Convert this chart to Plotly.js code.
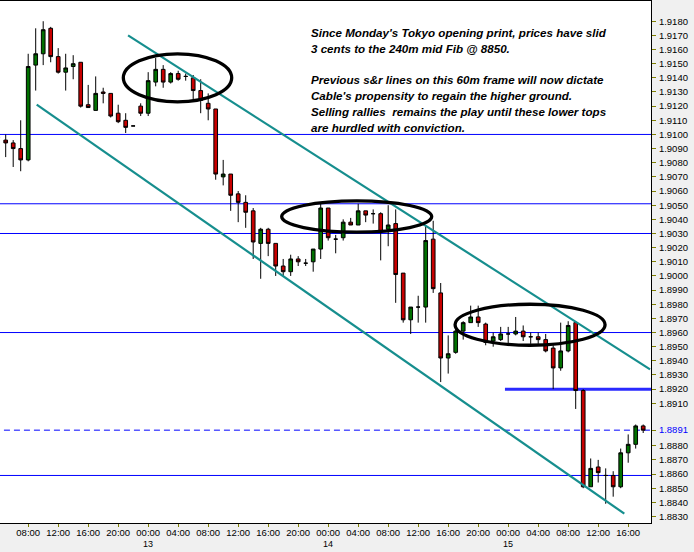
<!DOCTYPE html>
<html>
<head>
<meta charset="utf-8">
<script src="https://cdn.plot.ly/plotly-3.0.1.min.js"></script>
<style>
  html, body { margin: 0; padding: 0; background: #f0f0f0; }
  #chart { width: 694px; height: 552px; }
</style>
</head>
<body>
<div id="chart"></div>
<script>
// Cable (GBP/USD) 60-minute candles, 12th 04:00 through 15th 18:00
const firstBarUTC = Date.UTC(2008, 7, 12, 4, 0, 0);

const opens = [
  1.9098, 1.9096, 1.9094, 1.9090, 1.9082, 1.9149, 1.9157, 1.9175, 1.9155, 1.9144,
  1.9148, 1.9151, 1.9121, 1.9117, 1.9130, 1.9129, 1.9115, 1.9110, 1.9106, 1.9120,
  1.9115, 1.9137, 1.9146, 1.9137, 1.9143, 1.9141, 1.9140, 1.9131, 1.9122, 1.9118,
  1.9070, 1.9072, 1.9058, 1.9052, 1.9046, 1.9023, 1.9033, 1.9023, 1.9007, 1.9003,
  1.9012, 1.9009, 1.9010, 1.9019, 1.9048, 1.9026, 1.9027, 1.9038, 1.9036, 1.9046,
  1.9044, 1.9044, 1.9033, 1.9037, 1.9002, 1.8969, 1.8978, 1.8978, 1.9026, 1.8988,
  1.8942, 1.8946, 1.8961, 1.8967, 1.8971, 1.8966, 1.8954, 1.8955, 1.8959, 1.8959,
  1.8961, 1.8957, 1.8957, 1.8955, 1.8949, 1.8935, 1.8947, 1.8967, 1.8919, 1.8851,
  1.8865, 1.8859, 1.8859, 1.8851, 1.8875, 1.8881, 1.8894
];
const highs = [
  1.9099, 1.9100, 1.9096, 1.9110, 1.9157, 1.9175, 1.9180, 1.9176, 1.9161, 1.9157,
  1.9156, 1.9151, 1.9135, 1.9141, 1.9133, 1.9129, 1.9121, 1.9115, 1.9106, 1.9122,
  1.9144, 1.9154, 1.9149, 1.9144, 1.9145, 1.9143, 1.9142, 1.9139, 1.9129, 1.9118,
  1.9082, 1.9072, 1.9060, 1.9057, 1.9048, 1.9034, 1.9034, 1.9023, 1.9012, 1.9015,
  1.9014, 1.9012, 1.9019, 1.9051, 1.9048, 1.9029, 1.9040, 1.9041, 1.9051, 1.9046,
  1.9047, 1.9045, 1.9050, 1.9047, 1.9002, 1.8978, 1.8986, 1.9035, 1.9039, 1.8995,
  1.8958, 1.8964, 1.8968, 1.8979, 1.8979, 1.8967, 1.8960, 1.8964, 1.8964, 1.8971,
  1.8965, 1.8960, 1.8960, 1.8959, 1.8951, 1.8967, 1.8968, 1.8968, 1.8920, 1.8871,
  1.8870, 1.8864, 1.8862, 1.8878, 1.8888, 1.8895, 1.8895
];
const lows = [
  1.9097, 1.9084, 1.9077, 1.9074, 1.9081, 1.9131, 1.9149, 1.9151, 1.9143, 1.9131,
  1.9139, 1.9119, 1.9119, 1.9117, 1.9122, 1.9112, 1.9108, 1.9101, 1.9106, 1.9113,
  1.9113, 1.9134, 1.9133, 1.9136, 1.9138, 1.9138, 1.9125, 1.9115, 1.9110, 1.9068,
  1.9064, 1.9046, 1.9038, 1.9034, 1.9012, 1.8998, 1.9014, 1.9000, 1.9000, 1.9000,
  1.9007, 1.9007, 1.9003, 1.9012, 1.9025, 1.9016, 1.9025, 1.9036, 1.9036, 1.9038,
  1.9037, 1.9011, 1.9021, 1.8981, 1.8967, 1.8959, 1.8967, 1.8967, 1.8988, 1.8925,
  1.8931, 1.8945, 1.8955, 1.8967, 1.8964, 1.8951, 1.8950, 1.8954, 1.8952, 1.8958,
  1.8954, 1.8952, 1.8952, 1.8946, 1.8920, 1.8933, 1.8946, 1.8906, 1.8850, 1.8851,
  1.8854, 1.8839, 1.8844, 1.8850, 1.8868, 1.8878, 1.8889
];
const closes = [
  1.9098, 1.9094, 1.9090, 1.9082, 1.9148, 1.9157, 1.9174, 1.9155, 1.9144, 1.9147,
  1.9150, 1.9120, 1.9119, 1.9129, 1.9129, 1.9113, 1.9109, 1.9105, 1.9106, 1.9115,
  1.9138, 1.9146, 1.9137, 1.9143, 1.9139, 1.9141, 1.9131, 1.9124, 1.9118, 1.9072,
  1.9072, 1.9057, 1.9052, 1.9045, 1.9024, 1.9033, 1.9023, 1.9007, 1.9003, 1.9012,
  1.9010, 1.9009, 1.9019, 1.9048, 1.9027, 1.9026, 1.9038, 1.9036, 1.9046, 1.9043,
  1.9044, 1.9031, 1.9036, 1.9001, 1.8969, 1.8978, 1.8978, 1.9025, 1.8991, 1.8942,
  1.8945, 1.8961, 1.8967, 1.8971, 1.8967, 1.8953, 1.8957, 1.8959, 1.8959, 1.8961,
  1.8957, 1.8957, 1.8955, 1.8947, 1.8935, 1.8947, 1.8965, 1.8919, 1.8851, 1.8864,
  1.8861, 1.8859, 1.8851, 1.8875, 1.8881, 1.8894, 1.8891
];

// support / resistance levels
const srLevels = [1.9100, 1.9051, 1.9030, 1.8960, 1.8859];
const fibLevel = 1.8920;
const fibStart = '2008-08-14 23:34';
const lastPrice = 1.8891;
const lastPriceStart = '2008-08-12 04:46';

// descending channel
const channelUpperTime = ['2008-08-12 21:19', '2008-08-15 18:55'];
const channelUpperPrice = [1.9170, 1.8934];
const channelLowerTime = ['2008-08-12 09:08', '2008-08-15 15:29'];
const channelLowerPrice = [1.9121, 1.8832];

// consolidation zones (ellipses)
const zoneStart = ['2008-08-12 20:41', '2008-08-13 17:48', '2008-08-14 16:55'];
const zoneEnd   = ['2008-08-13 11:08', '2008-08-14 13:48', '2008-08-15 12:55'];
const zoneLow   = [1.9123, 1.9031, 1.8951];
const zoneHigh  = [1.9157, 1.9053, 1.8980];

// axis ticks
const yTickVals = [
  1.9180, 1.9170, 1.9160, 1.9150, 1.9140, 1.9130, 1.9120, 1.9110, 1.9100, 1.9090,
  1.9080, 1.9070, 1.9060, 1.9050, 1.9040, 1.9030, 1.9020, 1.9010, 1.9000, 1.8990,
  1.8980, 1.8970, 1.8960, 1.8950, 1.8940, 1.8930, 1.8920, 1.8910, 1.8891, 1.8880,
  1.8870, 1.8860, 1.8850, 1.8840, 1.8830
];
const xTickVals = [
  '2008-08-12 04:00', '2008-08-12 08:00', '2008-08-12 12:00', '2008-08-12 16:00', '2008-08-12 20:00',
  '2008-08-13 00:00', '2008-08-13 04:00', '2008-08-13 08:00', '2008-08-13 12:00', '2008-08-13 16:00', '2008-08-13 20:00',
  '2008-08-14 00:00', '2008-08-14 04:00', '2008-08-14 08:00', '2008-08-14 12:00', '2008-08-14 16:00', '2008-08-14 20:00',
  '2008-08-15 00:00', '2008-08-15 04:00', '2008-08-15 08:00', '2008-08-15 12:00', '2008-08-15 16:00'
];
const xTickText = [
  '04:00', '08:00', '12:00', '16:00', '20:00',
  '00:00', '04:00', '08:00', '12:00', '16:00', '20:00',
  '00:00', '04:00', '08:00', '12:00', '16:00', '20:00',
  '00:00', '04:00', '08:00', '12:00', '16:00'
];
const dayTicks = ['2008-08-13 00:00', '2008-08-14 00:00', '2008-08-15 00:00'];
const dayLabels = ['13', '14', '15'];

const noteLines = [
  "Since Monday's Tokyo opening print, prices have slid",
  "3 cents to the 240m mid Fib @ 8850.",
  "",
  "Previous s&r lines on this 60m frame will now dictate",
  "Cable's propensity to regain the higher ground.",
  "Selling rallies  remains the play until these lower tops",
  "are hurdled with conviction."
];

// hourly bar timestamps
const times = opens.map((_, i) => {
  const d = new Date(firstBarUTC + i * 3600e3);
  return d.toISOString().slice(0, 16).replace('T', ' ');
});

const xRange = ['2008-08-12 04:14:24', '2008-08-15 19:02:24'];
const yRange = [1.88254, 1.91943];

const BLUE = '#0000ff';
const TEAL = '#168e8e';
const FONT = 'Liberation Sans, Arial, sans-serif';

const shapes = [];
srLevels.forEach(p => shapes.push({
  type: 'line', xref: 'paper', yref: 'y', x0: 0, x1: 1, y0: p, y1: p,
  line: { color: BLUE, width: 1 }, layer: 'below'
}));
shapes.push({
  type: 'line', xref: 'x', yref: 'y', x0: lastPriceStart, x1: xRange[1], y0: lastPrice, y1: lastPrice,
  line: { color: BLUE, width: 1, dash: '6px,4px' }, layer: 'below'
});
shapes.push({
  type: 'line', xref: 'x', yref: 'y', x0: fibStart, x1: xRange[1], y0: fibLevel, y1: fibLevel,
  line: { color: '#2a2aff', width: 3 }, layer: 'below'
});
shapes.push({
  type: 'line', xref: 'x', yref: 'y',
  x0: channelUpperTime[0], x1: channelUpperTime[1], y0: channelUpperPrice[0], y1: channelUpperPrice[1],
  line: { color: TEAL, width: 2.2 }
});
shapes.push({
  type: 'line', xref: 'x', yref: 'y',
  x0: channelLowerTime[0], x1: channelLowerTime[1], y0: channelLowerPrice[0], y1: channelLowerPrice[1],
  line: { color: TEAL, width: 2.2 }
});
zoneStart.forEach((t, k) => shapes.push({
  type: 'circle', xref: 'x', yref: 'y',
  x0: t, x1: zoneEnd[k], y0: zoneLow[k], y1: zoneHigh[k],
  line: { color: '#000000', width: 3.3 }
}));

// commentary block, one annotation per line
const noteX = 309 / 651;
const noteTop = 31.5;    // px from top of plot
const noteStep = 15.8;   // px between lines
const plotH = 522;
const annotations = noteLines.map((txt, k) => ({
  xref: 'paper', yref: 'paper', x: noteX, xanchor: 'left',
  y: 1 - (noteTop + k * noteStep) / plotH, yanchor: 'middle',
  text: txt, showarrow: false,
  font: { family: FONT, size: 11.6, color: '#000', weight: 'bold', style: 'italic' }
})).filter(a => a.text !== '');

// day numbers under the midnight ticks
dayTicks.forEach((t, k) => annotations.push({
  xref: 'x', yref: 'paper', x: t, xanchor: 'center',
  y: -21 / plotH, yanchor: 'middle',
  text: dayLabels[k], showarrow: false,
  font: { family: FONT, size: 9, color: '#000' }
}));

const yTickText = yTickVals.map(v => v === lastPrice
  ? '<span style="color:#0000ff">' + v.toFixed(4) + '</span>'
  : v.toFixed(4));

const tickFont = { family: FONT, size: 9.5, color: '#000' };

const data = [{
  type: 'candlestick',
  x: times, open: opens, high: highs, low: lows, close: closes,
  increasing: { line: { color: '#000000', width: 1 }, fillcolor: '#007000' },
  decreasing: { line: { color: '#000000', width: 1 }, fillcolor: '#c80000' },
  whiskerwidth: 0,
  hoverinfo: 'skip'
}];

const layout = {
  width: 694, height: 552,
  margin: { l: 0, r: 43, t: 1, b: 29 },
  paper_bgcolor: '#f0f0f0',
  plot_bgcolor: '#ffffff',
  showlegend: false,
  boxgap: 0.3,
  xaxis: {
    type: 'date', range: xRange, rangeslider: { visible: false },
    showgrid: false, zeroline: false,
    showline: true, linecolor: '#000', linewidth: 1, mirror: true,
    ticks: 'outside', ticklen: 3, tickcolor: '#808000', tickwidth: 1,
    tickmode: 'array', tickvals: xTickVals, ticktext: xTickText,
    ticklabelstandoff: -2,
    tickfont: tickFont, fixedrange: true
  },
  yaxis: {
    side: 'right', range: yRange,
    showgrid: false, zeroline: false,
    showline: true, linecolor: '#000', linewidth: 1,
    ticks: 'outside', ticklen: 4, tickcolor: '#808000', tickwidth: 1,
    tickmode: 'array', tickvals: yTickVals, ticktext: yTickText,
    ticklabelstandoff: 1,
    tickfont: tickFont, fixedrange: true
  },
  shapes: shapes,
  annotations: annotations
};

Plotly.newPlot('chart', data, layout, { staticPlot: true, displayModeBar: false });
</script>
</body>
</html>
